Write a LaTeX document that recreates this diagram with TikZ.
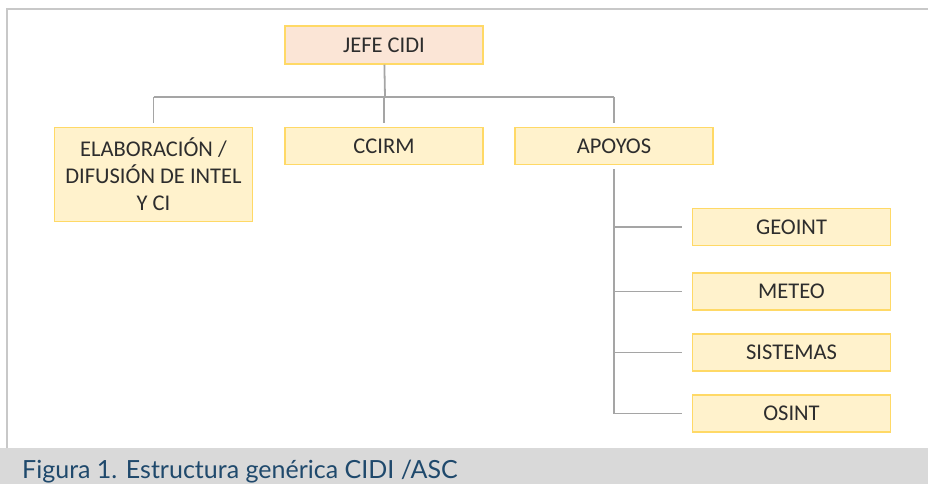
\documentclass[tikz,border=0pt]{standalone}
\usepackage{fontspec}
\setmainfont{Carlito}
\newfontfamily\capfont{Lato}
\definecolor{boxfill}{RGB}{255,242,204}
\definecolor{boxline}{RGB}{255,217,102}
\definecolor{topfill}{RGB}{251,229,214}
\definecolor{conngray}{RGB}{165,165,165}
\definecolor{framegray}{RGB}{200,200,200}
\definecolor{capgray}{RGB}{217,217,217}
\definecolor{captext}{RGB}{31,73,108}
\definecolor{boxtext}{RGB}{45,45,45}
\begin{document}
\begin{tikzpicture}[x=1pt,y=-1pt,
  unit/.style={draw=boxline,fill=boxfill,line width=1.5pt,minimum width=198pt,
    minimum height=37pt,inner sep=0pt,text=boxtext,align=center,
    font=\fontsize{22.5}{27}\selectfont},
  conn/.style={draw=conngray,line width=1.8pt}]%CIDI
\useasboundingbox (0,0) rectangle (928,484);
\fill[capgray] (0,448) rectangle (928,484);
\draw[framegray,line width=2pt] (6.5,448) -- (6.5,9.5) -- (928,9.5);
\node[unit,fill=topfill,minimum height=38pt] (jefe) at (384,45) {JEFE CIDI};
\node[unit,minimum height=94pt] (elab) at (153.5,174.5) {ELABORACIÓN /\\DIFUSIÓN DE INTEL\\Y CI};
\node[unit] (ccirm) at (384,146) {CCIRM};
\node[unit] (apoyos) at (614,146) {APOYOS};
\node[unit] (geoint) at (791.5,227) {GEOINT};
\node[unit] (meteo) at (791.5,291.5) {METEO};
\node[unit] (sistemas) at (791.5,352.5) {SISTEMAS};
\node[unit] (osint) at (791.5,413.5) {OSINT};
\coordinate (bus) at (385,97);
\draw[conn] (jefe) -- (bus);
\draw[conn] (elab.north |- bus) -- (apoyos.north |- bus);
\foreach \n in {elab,ccirm,apoyos}
  \draw[conn,shorten >=4pt] (\n.north |- bus) -- (\n.north);
\draw[conn,shorten <=4pt] (apoyos.south) -- (apoyos.south |- osint.west);
\foreach \n in {geoint,meteo,sistemas,osint}
  \draw[conn,shorten >=10pt] (apoyos.south |- \n.west) -- (\n.west);
\node[anchor=base west,inner sep=0pt,text=captext,font=\capfont\fontsize{25}{30}\selectfont]
  (caption) at (22,478) {Figura 1. Estructura genérica CIDI /ASC};
\end{tikzpicture}
\end{document}
